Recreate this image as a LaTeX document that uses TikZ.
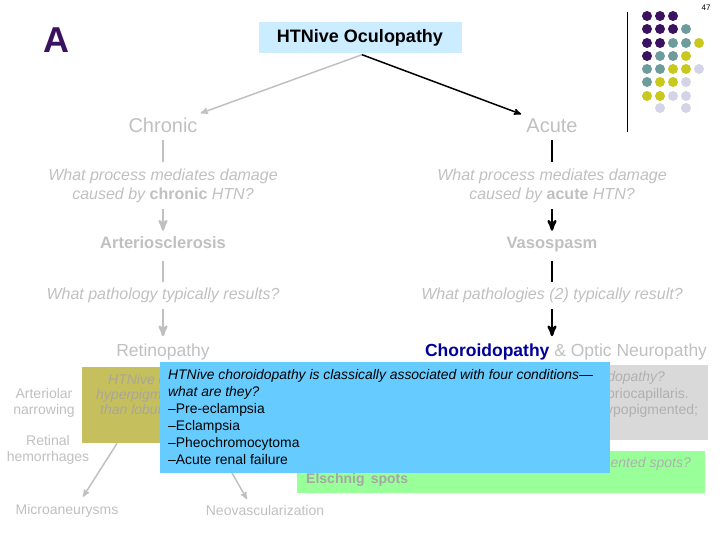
\documentclass[tikz,border=0pt]{standalone}
\usepackage{fontspec}
\setmainfont{Liberation Sans}
\usetikzlibrary{arrows,positioning,calc}

\definecolor{apurple}{HTML}{3B1260}
\definecolor{dteal}{HTML}{6E9C9C}
\definecolor{dyellow}{HTML}{C8C81E}
\definecolor{dlav}{HTML}{D4D4E8}
\definecolor{txtgray}{HTML}{C0C0C0}
\definecolor{titlefill}{HTML}{CCECFF}
\definecolor{olivebox}{HTML}{C6BF5E}
\definecolor{olivetext}{HTML}{A8A69A}
\definecolor{bluebox}{HTML}{66CCFF}
\definecolor{greenbox}{HTML}{99FF99}
\definecolor{graybox}{HTML}{D9D9D9}
\definecolor{graytext}{HTML}{B0B0B0}
\definecolor{chorblue}{HTML}{000099}

\tikzset{
  heading/.style={inner sep=0pt, text=txtgray, text height=0.72em, text depth=0.2em, font=\fontsize{20}{23}\selectfont},
  finding/.style={inner sep=0pt, text=txtgray, text height=0.72em, text depth=0.2em, font=\bfseries\fontsize{16.5}{20}\selectfont},
  question/.style={inner sep=0pt, text=txtgray, align=center, font=\itshape\fontsize{16}{19}\selectfont},
  sign/.style={inner sep=0pt, text=txtgray, align=center, font=\fontsize{14}{16}\selectfont},
  popup/.style={inner sep=0pt, anchor=north west, align=left, font=\fontsize{13.9}{17}\selectfont},
  grayline/.style={draw=txtgray, line width=2.5pt},
  blackline/.style={draw=black, line width=2.5pt},
  thinarrow/.style={->, line width=1.5pt},
  dot/.style={circle, inner sep=0pt, minimum size=10pt}
}

\begin{document}
\begin{tikzpicture}[x=1pt, y=-1pt, >=stealth']
\useasboundingbox (0,0) rectangle (720,540);

% slide decoration
\node[text=apurple, font=\bfseries\fontsize{36}{40}\selectfont] (letter) at (56,40) {A};
\node[font=\fontsize{8}{9}\selectfont] (pagenum) at (706,8) {47};
\coordinate (bartop) at (627,12);
\coordinate (barbot) at (627,132);
\draw[line width=1pt] (bartop) -- (barbot);
\foreach \px/\py/\pc in {647/16/apurple, 660/16/apurple, 673/16/apurple,
    647/29/apurple, 660/29/apurple, 673/29/apurple, 686/29/dteal,
    647/43/apurple, 660/43/apurple, 673/43/dteal, 686/43/dteal, 699/43/dyellow,
    647/56/apurple, 660/56/dteal, 673/56/dteal, 686/56/dyellow,
    647/69/dteal, 660/69/dteal, 673/69/dyellow, 686/69/dyellow, 699/69/dlav,
    647/82/dteal, 660/82/dyellow, 673/82/dyellow, 686/82/dlav,
    647/96/dyellow, 660/96/dyellow, 673/96/dlav, 686/96/dlav,
    660/108/dlav, 686/108/dlav}
  \node[dot, fill=\pc] at (\px,\py) {};

% tree
\node[fill=titlefill, minimum width=203pt, minimum height=31pt, inner sep=0pt,
      font=\bfseries\fontsize{18}{21}\selectfont] (title) at (360,38) {HTNive Oculopathy};

\node[heading] (chronic) at (163,130) {Chronic};
\node[heading] (acute) at (552,130) {Acute};

\node[question] (qchron) at (163,186) {What process mediates damage\\caused by {\upshape\bfseries chronic} HTN?};
\node[question] (qacute) at (552,186) {What process mediates damage\\caused by {\upshape\bfseries acute} HTN?};

\node[finding] (arterio) at (163,246) {Arteriosclerosis};
\node[finding] (vaso) at (552,246) {Vasospasm};

\node[question] (qret) at (163,295) {What pathology typically results?};
\node[question] (qchor) at (552,295) {What pathologies (2) typically result?};

\node[heading, font=\fontsize{17.5}{20}\selectfont] (retino) at (163,354) {Retinopathy};
\node[heading, font=\fontsize{17.5}{20}\selectfont] (choro) at (566,354)
  {\textcolor{chorblue}{\bfseries Choroidopathy} \& Optic Neuropathy};

\coordinate (split) at ($(title.south)+(2,1)$);
\draw[thinarrow, txtgray] (split) -- ($(chronic.north east)+(3,-12)$);
\draw[thinarrow, black] (split) -- ($(acute.north west)+(-5,-11)$);

\draw[grayline, shorten <=5pt, shorten >=6.5pt] (chronic) -- (qchron);
\draw[grayline, ->, shorten <=6pt, shorten >=10.5pt] (qchron) -- (arterio);
\draw[grayline, shorten <=10.5pt, shorten >=5.5pt] (arterio) -- (qret);
\draw[grayline, ->, shorten <=6.5pt, shorten >=13pt] (qret) -- (retino);

\draw[blackline, shorten <=5pt, shorten >=6.5pt] (acute) -- (qacute);
\draw[blackline, ->, shorten <=6pt, shorten >=10.5pt] (qacute) -- (vaso);
\draw[blackline, shorten <=10.5pt, shorten >=5.5pt] (vaso) -- (qchor);
\draw[blackline, ->, shorten <=6.5pt, shorten >=13pt] (qchor.south) -- (qchor.south |- choro.north);

% retinal signs
\node[sign] (narrow) at (44,403) {Arteriolar\\narrowing};
\node[sign] (hemorr) at (48,450) {Retinal\\hemorrhages};
\node[sign] (micro) at (67,511) {Microaneurysms};
\node[sign] (neovasc) at (265,510) {Neovascularization};

% boxes behind the popup
\node[fill=olivebox, minimum width=220pt, minimum height=76pt, inner sep=0pt, anchor=north west] (retbox) at (82,367) {};
\node[popup, text=olivetext, font=\itshape\fontsize{14}{15}\selectfont] (rettext1) at (108,374) {HTNive c};
\node[popup, text=olivetext, font=\itshape\fontsize{14}{15}\selectfont] (rettext2) at (96,389) {hyperpigm};
\node[popup, text=olivetext, font=\itshape\fontsize{14}{15}\selectfont] (rettext3) at (100,404) {than lobul};

\node[fill=graybox, minimum width=148pt, minimum height=75pt, inner sep=0pt, anchor=north west] (chorbox) at (560,365) {};
\node[popup, text=graytext, font=\itshape\fontsize{14}{15}\selectfont] (chortext1) at (604,371) {idopathy?};
\node[popup, text=graytext, font=\fontsize{14}{15}\selectfont] (chortext2) at (607,388) {oriocapillaris.};
\node[popup, text=graytext, font=\fontsize{14}{15}\selectfont] (chortext3) at (606,404) {ypopigmented;};

\node[fill=greenbox, minimum width=408pt, minimum height=42pt, inner sep=0pt, anchor=north west] (spotbox) at (297,451) {};
\node[popup, text=graytext, font=\itshape\fontsize{14}{15}\selectfont, anchor=north east] (spotq) at (691,457) {mented spots?};
\node[popup, text=black!35, font=\bfseries\fontsize{14}{15}\selectfont] (spotans) at (306,473) {Elschnig\, spots};

\coordinate (microstart) at ($(retbox.south west)+(35,0)$);
\coordinate (neostart) at ($(retbox.south west)+(133,0)$);
\draw[thinarrow, txtgray] (microstart) -- ($(micro.north)+(16,-7.5)$);
\draw[thinarrow, txtgray] (neostart) -- ($(neovasc.north)+(-18,-5.5)$);

% popup
\node[fill=bluebox, minimum width=450pt, minimum height=111pt, inner sep=0pt, anchor=north west] (popbox) at (160,362) {};
\node[popup] (poptext) at (168,369)
  {\itshape HTNive choroidopathy is classically associated with four conditions—\\
   \itshape what are they?\\
   –Pre-eclampsia\\
   –Eclampsia\\
   –Pheochromocytoma\\
   –Acute renal failure};
\end{tikzpicture}
\end{document}
